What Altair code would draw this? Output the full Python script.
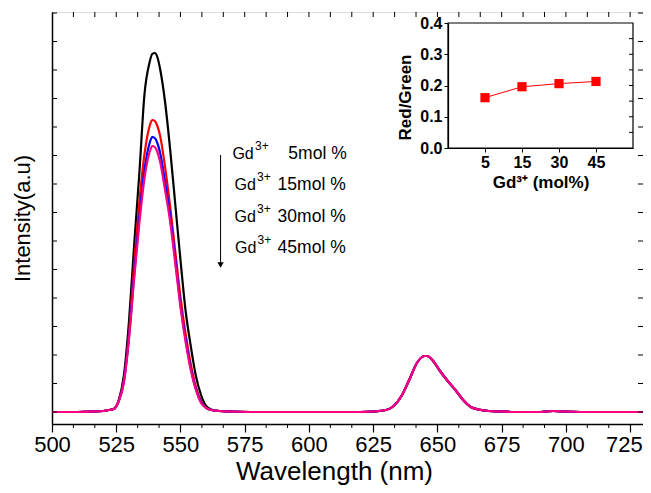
import altair as alt
import pandas as pd

# ---------------- data ----------------
wavelength = [500, 510, 515, 520, 522, 524, 526, 528, 530, 532,
              534, 536, 538, 539, 540, 541, 542, 544, 546, 548,
              550, 552, 554, 556, 558, 560, 562, 565, 570, 580,
              600, 620, 625, 630, 633, 636, 639, 642, 645, 646,
              648, 651, 654, 657, 660, 663, 666, 670, 675, 680,
              690, 695, 700, 710, 730]

red_band = [0, 0, 0.5, 2, 6, 16, 32, 49, 56, 56,
            52, 41, 31, 22, 12, 5, 2.5, 1, 0.5, 0,
            0, 1, 0.5, 0, 0]

gd5 = [0, 0, 0.3, 1, 2, 3, 12, 37, 92, 168,
       239, 318, 350, 358, 359, 355, 344, 310, 262, 207,
       152, 101, 66, 36, 17, 6, 2.5, 1, 0.5, 0] + red_band
gd15 = [0, 0, 0.3, 1, 2, 3, 12, 32, 80, 148,
        210, 258, 286, 292, 291, 286, 277, 245, 205, 160,
        115, 78, 48, 25, 11, 4, 2, 1, 0.5, 0] + red_band
gd30 = [0, 0, 0.3, 1, 2, 3, 11, 31, 76, 138,
        195, 242, 269, 275, 274, 269, 260, 230, 196, 152,
        108, 73, 44, 23, 10, 4, 2, 1, 0.5, 0] + red_band
gd45 = [0, 0, 0.3, 1, 2, 3, 11, 30, 74, 134,
        189, 234, 260, 266, 265, 260, 251, 222, 190, 148,
        105, 70, 42, 22, 9, 4, 2, 1, 0.5, 0] + red_band

series_colors = ["#000000", "#ff0000", "#0000ff", "#ff0080"]

x_tick_labels = [500, 525, 550, 575, 600, 625, 650, 675, 700, 725]
y_minor_ticks = [0, 28.5, 57, 85.5, 114, 142.5, 171, 199.5, 228, 256.5, 285, 313.5, 342, 370.5, 399]
x_minor_ticks = [round(500 + 25 / 3 * k, 3) for k in range(1, 28)]
x_bottom_minor = [v for v in x_minor_ticks if abs(v - 25 * round(v / 25)) > 0.01]

# annotation (legend-like text) in data units
ann_gd_x = [570.2, 571.0, 571.0, 571.2]
ann_sup_x = [579.0, 579.8, 579.8, 580.0]
ann_mol_x = [614.7, 614.3, 614.3, 614.3]
ann_y = [253.5, 222, 190.5, 159]
ann_sup_y = [262.5, 231, 199.5, 168]
ann_mol = ["5mol %", "15mol %", "30mol %", "45mol %"]
arrow_x = [565.6]
arrow_top = [257]
arrow_bottom = [147]

# inset
gd_conc = ["5", "15", "30", "45"]
red_green = [0.161, 0.196, 0.206, 0.213]
inset_right_ticks = [0.05, 0.1, 0.15, 0.2, 0.25, 0.3, 0.35]

FONT = "Liberation Sans"
W, H = 591, 412

# ---------------- main scales / axes ----------------
xscale = alt.Scale(domain=[500, 730], nice=False, zero=False)
yscale = alt.Scale(domain=[-12, 400], nice=False, zero=False)
xaxis = alt.Axis(values=x_tick_labels, tickSize=8, tickColor="black", tickWidth=1.2,
                 domainColor="black", domainWidth=1.5, labelFont=FONT, labelFontSize=22,
                 labelColor="black", labelPadding=2, labelFlush=False, labelOverlap=False,
                 labelAlign={"condition": {"test": "datum.value === 725", "value": "right"},
                             "value": "center"},
                 labelOffset={"condition": {"test": "datum.value === 725", "value": 12},
                              "value": 0},
                 title="Wavelength (nm)", titleFont=FONT, titleFontSize=26,
                 titleFontWeight="normal", titleColor="black", titlePadding=3,
                 titleX=282, grid=False)
yaxis = alt.Axis(labels=False, ticks=False, domainColor="black", domainWidth=1.5,
                 title="Intensity(a.u)", titleFont=FONT, titleFontSize=22,
                 titleFontWeight="normal", titleColor="black", titlePadding=18, grid=False)


def X(field):
    return alt.X(field, type="quantitative", scale=xscale, axis=xaxis)


def Y(field):
    return alt.Y(field, type="quantitative", scale=yscale, axis=yaxis)


layers = []
for vals, col in zip([gd5, gd15, gd30, gd45], series_colors):
    df = pd.DataFrame({"wl": wavelength, "I": vals})
    layers.append(alt.Chart(df).mark_line(color=col, strokeWidth=2.2, interpolate="monotone")
                  .encode(x=X("wl"), y=Y("I")))

ydf = pd.DataFrame({"v": y_minor_ticks})
layers.append(alt.Chart(ydf).mark_rule(color="black", strokeWidth=1)
              .encode(y=Y("v"), x=alt.value(0), x2=alt.value(5)))
layers.append(alt.Chart(ydf).mark_rule(color="black", strokeWidth=1)
              .encode(y=Y("v"), x=alt.value(W), x2=alt.value(W - 5)))
xtop = pd.DataFrame({"v": x_minor_ticks})
layers.append(alt.Chart(xtop).mark_rule(color="black", strokeWidth=1)
              .encode(x=X("v"), y=alt.value(0), y2=alt.value(5)))
xbot = pd.DataFrame({"v": x_bottom_minor})
layers.append(alt.Chart(xbot).mark_rule(color="black", strokeWidth=1)
              .encode(x=X("v"), y=alt.value(H), y2=alt.value(H + 4)))

gd_df = pd.DataFrame({"x": ann_gd_x, "y": ann_y, "t": ["Gd"] * 4})
sup_df = pd.DataFrame({"x": ann_sup_x, "y": ann_sup_y, "t": ["3+"] * 4})
mol_df = pd.DataFrame({"x": ann_mol_x, "y": ann_y, "t": ann_mol})
layers.append(alt.Chart(gd_df).mark_text(align="left", baseline="alphabetic", font=FONT,
                                         fontSize=16, color="black")
              .encode(x=X("x"), y=Y("y"), text="t:N"))
layers.append(alt.Chart(sup_df).mark_text(align="left", baseline="alphabetic", font=FONT,
                                          fontSize=12, color="black")
              .encode(x=X("x"), y=Y("y"), text="t:N"))
layers.append(alt.Chart(mol_df).mark_text(align="right", baseline="alphabetic", font=FONT,
                                          fontSize=17.5, color="black")
              .encode(x=X("x"), y=Y("y"), text="t:N"))

arr_df = pd.DataFrame({"x": arrow_x, "y": arrow_top, "y2": arrow_bottom})
layers.append(alt.Chart(arr_df).mark_rule(color="black", strokeWidth=1)
              .encode(x=X("x"), y=Y("y"), y2="y2:Q"))
head_df = pd.DataFrame({"x": arrow_x, "y": arrow_bottom})
layers.append(alt.Chart(head_df).mark_point(shape="triangle-down", filled=True, color="black",
                                            size=40, opacity=1)
              .encode(x=X("x"), y=Y("y")))

main = alt.layer(*layers)

# ---------------- inset ----------------
IX0, IX1, IY0, IY1 = 396, 581, 11, 136
ixscale = alt.Scale(type="point", domain=gd_conc, range=[IX0, IX1], padding=1)
iyscale = alt.Scale(domain=[0, 0.4], range=[IY1, IY0], nice=False, zero=False)
ixaxis = alt.Axis(orient="bottom", offset=-(H - IY1), labelAngle=0, labelFont=FONT,
                  labelFontSize=16, labelFontWeight="bold", labelColor="black", labelPadding=2,
                  tickSize=4, tickColor="black", domainColor="black", domainWidth=1.2,
                  title="Gd³⁺ (mol%)", titleFont=FONT, titleFontSize=17, titleFontWeight="bold",
                  titleColor="black", titlePadding=4, grid=False)
iyaxis = alt.Axis(orient="left", offset=-IX0, values=[0, 0.1, 0.2, 0.3, 0.4], format=".1f",
                  labelFont=FONT, labelFontSize=16, labelFontWeight="bold", labelColor="black",
                  labelPadding=2, tickSize=4, tickColor="black", domainColor="black",
                  domainWidth=1.2, title="Red/Green", titleFont=FONT, titleFontSize=17,
                  titleFontWeight="bold", titleColor="black", titlePadding=5, titleY=85,
                  grid=False)


def IX(field):
    return alt.X(field, type="ordinal", sort=gd_conc, scale=ixscale, axis=ixaxis)


def IY(field):
    return alt.Y(field, type="quantitative", scale=iyscale, axis=iyaxis)


inset_df = pd.DataFrame({"gd": gd_conc, "ratio": red_green})
frame_df = pd.DataFrame({"k": [0]})
inset_frame = alt.Chart(frame_df).mark_rect(fillOpacity=0, stroke="black", strokeWidth=1.2).encode(
    x=alt.value(IX0), x2=alt.value(IX1), y=alt.value(IY0), y2=alt.value(IY1))
inset_line = alt.Chart(inset_df).mark_line(color="#ff0000", strokeWidth=1).encode(
    x=IX("gd"), y=IY("ratio"))
inset_pts = alt.Chart(inset_df).mark_point(shape="square", filled=True, color="#ff0000",
                                           size=85, opacity=1).encode(x=IX("gd"), y=IY("ratio"))
irt = pd.DataFrame({"v": inset_right_ticks})
inset_rt = alt.Chart(irt).mark_rule(color="black", strokeWidth=1).encode(
    y=IY("v"), x=alt.value(IX1), x2=alt.value(IX1 - 4))

inset = alt.layer(inset_frame, inset_line, inset_pts, inset_rt)

chart = (alt.layer(main, inset)
         .resolve_scale(x="independent", y="independent")
         .resolve_axis(x="independent", y="independent")
         .properties(width=W, height=H,
                     autosize=alt.AutoSizeParams(type="none"),
                     padding={"left": 44, "top": 4, "right": 0, "bottom": 61})
         .configure_view(stroke="black", strokeWidth=1.5)
         .configure(background="white"))

chart.save("out.html", embed_options={"renderer": "svg", "actions": False})
